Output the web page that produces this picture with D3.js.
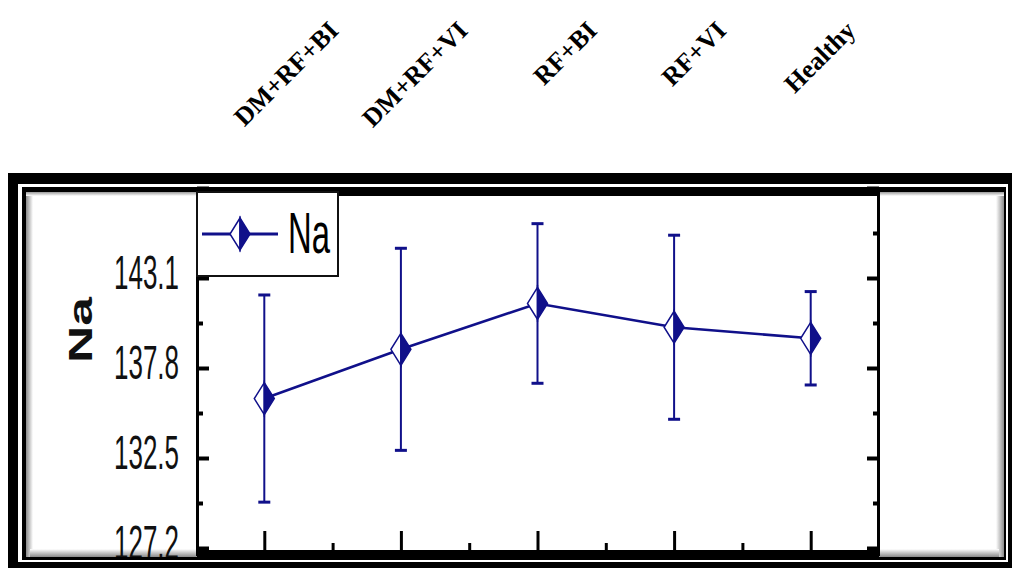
<!DOCTYPE html>
<html><head><meta charset="utf-8">
<script src="https://cdn.jsdelivr.net/npm/d3@7"></script>
<style>html,body{margin:0;padding:0;background:#fff;overflow:hidden}</style>
</head><body><svg id="c" width="1012" height="568"></svg>
<script>
// ---- data ----
const categories = ["DM+RF+BI", "DM+RF+VI", "RF+BI", "RF+VI", "Healthy"];
const naMean = [136.0, 138.9, 141.6, 140.2, 139.55];
const naErr = [6.1, 5.95, 4.7, 5.42, 2.75];
const yMajorTicks = [127.2, 132.5, 137.8, 143.1, 148.4];
const yMinorTicks = [129.85, 135.15, 140.45, 145.75];
const yTickLabels = ["127.2", "132.5", "137.8", "143.1", ""];
const seriesName = "Na";
const yTitle = "Na";

// ---- layout ----
const svg = d3.select("#c");
const navy = "#10108a";
const idx = d3.range(categories.length);
const x = d3.scaleLinear().domain([-0.5, 4.5]).range([196, 879]);
const y = d3.scaleLinear().domain([127.2, 148.4]).range([548, 188]);
const labelX = d3.scaleLinear().domain([0, 4]).range([340, 857]);
const xMinor = d3.range(0.5, 4, 1);

const defs = svg.append("defs");
function grad(id, x1, y1, x2, y2, c1, c2) {
  const g = defs.append("linearGradient").attr("id", id)
    .attr("x1", x1).attr("y1", y1).attr("x2", x2).attr("y2", y2);
  g.append("stop").attr("offset", "0%").attr("stop-color", c1);
  g.append("stop").attr("offset", "100%").attr("stop-color", c2);
}
grad("shL", 0, 0, 1, 0, "#8a8a8a", "#ffffff");
grad("shR", 0, 0, 1, 0, "#ffffff", "#8a8a8a");
grad("shT", 0, 0, 0, 1, "#9a9a9a", "#ffffff");
grad("shB", 0, 0, 0, 1, "#ffffff", "#8a8a8a");

// frame
svg.append("rect").attr("x", 8).attr("y", 173).attr("width", 1004).attr("height", 400).attr("fill", "#000");
svg.append("rect").attr("x", 18).attr("y", 184).attr("width", 990).attr("height", 378).attr("fill", "#fff");
svg.append("rect").attr("x", 22).attr("y", 187).attr("width", 984).attr("height", 373).attr("fill", "#000");

// left panel
svg.append("rect").attr("x", 26).attr("y", 192).attr("width", 171).attr("height", 365).attr("fill", "#fff");
svg.append("rect").attr("x", 26).attr("y", 192).attr("width", 7).attr("height", 365).attr("fill", "url(#shL)");
svg.append("rect").attr("x", 26).attr("y", 192).attr("width", 171).attr("height", 4).attr("fill", "url(#shT)");
svg.append("rect").attr("x", 30).attr("y", 549).attr("width", 167).attr("height", 8).attr("fill", "url(#shB)");
// right panel
svg.append("rect").attr("x", 879).attr("y", 192).attr("width", 125).attr("height", 365).attr("fill", "#fff");
svg.append("rect").attr("x", 996).attr("y", 192).attr("width", 8).attr("height", 365).attr("fill", "url(#shR)");
svg.append("rect").attr("x", 879).attr("y", 192).attr("width", 125).attr("height", 4).attr("fill", "url(#shT)");
svg.append("rect").attr("x", 879).attr("y", 549).attr("width", 120).attr("height", 8).attr("fill", "url(#shB)");
// plot area
svg.append("rect").attr("x", 197).attr("y", 192).attr("width", 681).attr("height", 360).attr("fill", "#fff");

// axes lines
svg.append("line").attr("x1", 197.5).attr("x2", 197.5).attr("y1", 190).attr("y2", 556).attr("stroke", "#000").attr("stroke-width", 3);
svg.append("line").attr("x1", 878.5).attr("x2", 878.5).attr("y1", 190).attr("y2", 556).attr("stroke", "#000").attr("stroke-width", 3);
svg.append("line").attr("x1", 197).attr("x2", 879).attr("y1", 194).attr("y2", 194).attr("stroke", "#000").attr("stroke-width", 4);

// y ticks via d3 axes (inward)
function styleAxis(g, w) {
  g.select(".domain").remove();
  g.selectAll("line").attr("stroke", "#000").attr("stroke-width", w);
}
svg.append("g").attr("transform", "translate(197,0)")
  .call(d3.axisLeft(y).tickValues(yMajorTicks).tickSize(-12).tickFormat(""))
  .call(g => styleAxis(g, 4));
svg.append("g").attr("transform", "translate(197,0)")
  .call(d3.axisLeft(y).tickValues(yMinorTicks).tickSize(-6).tickFormat(""))
  .call(g => styleAxis(g, 4));
svg.append("g").attr("transform", "translate(879,0)")
  .call(d3.axisRight(y).tickValues(yMajorTicks).tickSize(-12).tickFormat(""))
  .call(g => styleAxis(g, 4));
svg.append("g").attr("transform", "translate(879,0)")
  .call(d3.axisRight(y).tickValues(yMinorTicks).tickSize(-6).tickFormat(""))
  .call(g => styleAxis(g, 4));
// x ticks (inward from bottom)
svg.append("g").attr("transform", "translate(0,551)")
  .call(d3.axisBottom(x).tickValues(idx).tickSize(-20).tickFormat(""))
  .call(g => styleAxis(g, 3));
svg.append("g").attr("transform", "translate(0,551)")
  .call(d3.axisBottom(x).tickValues(xMinor).tickSize(-8).tickFormat(""))
  .call(g => styleAxis(g, 3));

// y tick labels
svg.append("g").selectAll("text").data(yMajorTicks).join("text")
  .attr("x", 179).attr("y", d => y(d) + 11)
  .attr("text-anchor", "end")
  .attr("font-family", "Liberation Sans, Arial, sans-serif")
  .attr("font-size", 48)
  .attr("textLength", 65).attr("lengthAdjust", "spacingAndGlyphs")
  .attr("fill", "#111")
  .text((d, i) => yTickLabels[i]);

// y title
svg.append("text")
  .attr("transform", "translate(92,330) rotate(-90)")
  .attr("text-anchor", "middle")
  .attr("font-family", "Liberation Sans, Arial, sans-serif")
  .attr("font-weight", "bold").attr("font-size", 34)
  .attr("textLength", 66).attr("lengthAdjust", "spacingAndGlyphs")
  .attr("fill", "#111")
  .text(yTitle);

// category labels at top
svg.append("g").selectAll("text").data(categories).join("text")
  .attr("transform", (d, i) => `translate(${labelX(i)},32) rotate(-45)`)
  .attr("text-anchor", "end")
  .attr("font-family", "Liberation Serif, Times New Roman, serif")
  .attr("font-weight", "bold").attr("font-size", 26)
  .attr("fill", "#000")
  .text(d => d);

// series
const pts = idx.map(i => ({ i, m: naMean[i], e: naErr[i] }));
svg.append("path").datum(pts)
  .attr("d", d3.line().x(d => x(d.i)).y(d => y(d.m)))
  .attr("fill", "none").attr("stroke", navy).attr("stroke-width", 2.6);

const eb = svg.append("g").attr("stroke", navy);
eb.selectAll("line.v").data(pts).join("line").attr("class", "v")
  .attr("x1", d => x(d.i)).attr("x2", d => x(d.i))
  .attr("y1", d => y(d.m + d.e)).attr("y2", d => y(d.m - d.e))
  .attr("stroke-width", 2);
eb.selectAll("line.t").data(pts).join("line").attr("class", "t")
  .attr("x1", d => x(d.i) - 6).attr("x2", d => x(d.i) + 6)
  .attr("y1", d => y(d.m + d.e)).attr("y2", d => y(d.m + d.e))
  .attr("stroke-width", 3);
eb.selectAll("line.b").data(pts).join("line").attr("class", "b")
  .attr("x1", d => x(d.i) - 6).attr("x2", d => x(d.i) + 6)
  .attr("y1", d => y(d.m - d.e)).attr("y2", d => y(d.m - d.e))
  .attr("stroke-width", 3);

function diamond(g, cx, cy, w, h) {
  g.append("path")
    .attr("d", `M${cx},${cy - h}L${cx - w},${cy}L${cx},${cy + h}Z`)
    .attr("fill", "#fff").attr("stroke", navy).attr("stroke-width", 1.5);
  g.append("path")
    .attr("d", `M${cx},${cy - h}L${cx + w},${cy}L${cx},${cy + h}Z`)
    .attr("fill", navy).attr("stroke", navy).attr("stroke-width", 1.5);
}
const mk = svg.append("g");
pts.forEach(d => diamond(mk, x(d.i), y(d.m), 10, 16));

// legend
const lg = svg.append("g");
lg.append("rect").attr("x", 197).attr("y", 192).attr("width", 141).attr("height", 84)
  .attr("fill", "#fff").attr("stroke", "#111").attr("stroke-width", 2);
lg.append("line").attr("x1", 202).attr("x2", 278).attr("y1", 234).attr("y2", 234)
  .attr("stroke", navy).attr("stroke-width", 3);
diamond(lg, 240, 234, 10, 16);
lg.append("text").attr("x", 288).attr("y", 253)
  .attr("font-family", "Liberation Sans, Arial, sans-serif")
  .attr("font-size", 57)
  .attr("textLength", 42).attr("lengthAdjust", "spacingAndGlyphs")
  .attr("fill", "#000").text(seriesName);

// bottom frame on top
svg.append("rect").attr("x", 197).attr("y", 550).attr("width", 682).attr("height", 10).attr("fill", "#000");
svg.append("rect").attr("x", 22).attr("y", 557).attr("width", 984).attr("height", 3).attr("fill", "#000");
svg.append("rect").attr("x", 18).attr("y", 560).attr("width", 990).attr("height", 2).attr("fill", "#fff");
svg.append("rect").attr("x", 8).attr("y", 562).attr("width", 1004).attr("height", 10).attr("fill", "#000");
</script></body></html>
